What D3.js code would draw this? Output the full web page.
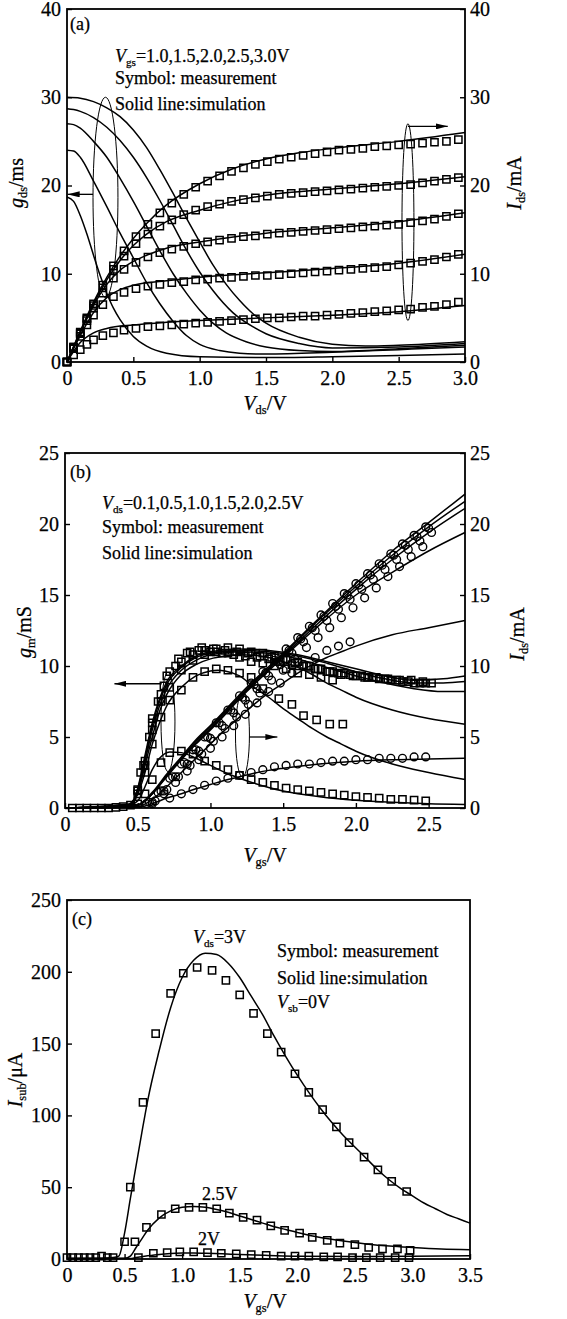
<!DOCTYPE html>
<html>
<head>
<meta charset="utf-8">
<script src="https://cdn.jsdelivr.net/npm/d3@7"></script>
<style>
  body { margin: 0; background: #fff; }
  svg { display: block; }
</style>
</head>
<body>
<div id="chart"></div>
<script>
const FONT = '"Liberation Serif","Times New Roman",serif';

// ---------- panel (a): output characteristics, Vgs = 1.0 .. 3.0 V ----------
const vdsMeas = [0, 0.05, 0.1, 0.15, 0.2, 0.27, 0.35, 0.43, 0.52, 0.61, 0.7, 0.79, 0.88, 0.97,
  1.06, 1.15, 1.24, 1.33, 1.42, 1.51, 1.6, 1.69, 1.78, 1.87, 1.96, 2.05, 2.14, 2.23, 2.32,
  2.41, 2.5, 2.59, 2.68, 2.77, 2.86, 2.95];
const idsMeasA = [
  [0, 0.8, 1.4, 2.0, 2.5, 3.0, 3.3, 3.6, 3.8, 4.0, 4.1, 4.2, 4.3, 4.4, 4.5, 4.6, 4.7, 4.8, 4.9, 5.0, 5.0, 5.1, 5.2, 5.2, 5.3, 5.4, 5.5, 5.6, 5.7, 5.8, 5.9, 6.0, 6.2, 6.3, 6.5, 6.8],
  [0, 1.5, 2.9, 4.2, 5.3, 6.5, 7.4, 7.9, 8.3, 8.6, 8.8, 9.0, 9.1, 9.3, 9.4, 9.5, 9.6, 9.7, 9.8, 9.8, 9.9, 10.0, 10.1, 10.2, 10.3, 10.4, 10.5, 10.6, 10.7, 10.8, 11.0, 11.2, 11.4, 11.6, 11.9, 12.2],
  [0, 1.6, 3.2, 4.7, 6.1, 7.8, 9.5, 10.5, 11.3, 11.9, 12.4, 12.8, 13.1, 13.4, 13.6, 13.8, 14.0, 14.2, 14.3, 14.5, 14.6, 14.7, 14.8, 14.9, 15.0, 15.1, 15.2, 15.3, 15.4, 15.5, 15.6, 15.8, 16.0, 16.2, 16.5, 16.8],
  [0, 1.7, 3.3, 4.9, 6.4, 8.4, 10.5, 12.0, 13.4, 14.5, 15.4, 16.1, 16.7, 17.2, 17.6, 17.9, 18.2, 18.4, 18.6, 18.8, 19.0, 19.1, 19.2, 19.3, 19.4, 19.5, 19.6, 19.7, 19.8, 19.9, 20.0, 20.1, 20.3, 20.5, 20.7, 20.9],
  [0, 1.7, 3.4, 5.0, 6.6, 8.7, 10.9, 12.6, 14.2, 15.6, 16.9, 18.0, 19.0, 19.8, 20.5, 21.1, 21.6, 22.0, 22.4, 22.7, 23.0, 23.2, 23.4, 23.6, 23.8, 24.0, 24.1, 24.2, 24.4, 24.5, 24.6, 24.7, 24.8, 24.9, 25.0, 25.2]
];
const idsSimA = [
  [[0, 0], [0.1, 2.2], [0.2, 3.3], [0.3, 3.8], [0.5, 4.2], [0.75, 4.5], [1.0, 4.7], [1.5, 5.0], [2.0, 5.3], [2.5, 5.7], [3.0, 6.4]],
  [[0, 0], [0.1, 3.0], [0.2, 5.6], [0.3, 7.3], [0.4, 8.2], [0.5, 8.7], [0.75, 9.2], [1.0, 9.6], [1.5, 10.1], [2.0, 10.6], [2.5, 11.2], [3.0, 12.2]],
  [[0, 0], [0.1, 3.3], [0.2, 6.4], [0.3, 8.8], [0.4, 10.4], [0.5, 11.4], [0.6, 12.1], [0.75, 12.9], [1.0, 13.6], [1.5, 14.6], [2.0, 15.2], [2.5, 15.9], [3.0, 16.9]],
  [[0, 0], [0.1, 3.4], [0.2, 6.6], [0.3, 9.3], [0.4, 11.5], [0.5, 13.2], [0.6, 14.5], [0.75, 15.9], [1.0, 17.2], [1.25, 18.2], [1.5, 18.9], [2.0, 19.6], [2.5, 20.2], [3.0, 21.0]],
  [[0, 0], [0.1, 3.5], [0.2, 6.8], [0.3, 9.6], [0.4, 12.0], [0.5, 14.0], [0.6, 15.7], [0.75, 17.8], [1.0, 20.2], [1.25, 21.9], [1.5, 23.0], [1.75, 23.7], [2.0, 24.2], [2.5, 25.0], [3.0, 26.0]]
];
const gdsSimA = [
  [[0, 18.7], [0.05, 18.2], [0.1, 16.6], [0.15, 14.5], [0.2, 12.1], [0.25, 9.8], [0.3, 7.8], [0.35, 6.1], [0.4, 4.8], [0.5, 2.9], [0.6, 1.8], [0.75, 1.0], [1.0, 0.6], [1.5, 0.5], [2.0, 0.6], [2.5, 0.75], [3.0, 0.9]],
  [[0, 24], [0.05, 23.9], [0.1, 23.2], [0.2, 20.5], [0.3, 17.6], [0.4, 14.6], [0.5, 11.8], [0.6, 9.0], [0.7, 6.6], [0.8, 4.6], [0.9, 3.0], [1.0, 2.0], [1.15, 1.3], [1.3, 1.0], [1.5, 0.9], [2.0, 1.1], [2.5, 1.4], [3.0, 1.7]],
  [[0, 27], [0.05, 26.9], [0.1, 26.5], [0.2, 25], [0.3, 23.2], [0.4, 20.8], [0.5, 18.2], [0.6, 15.4], [0.7, 12.6], [0.8, 10.0], [0.9, 7.8], [1.0, 5.9], [1.1, 4.4], [1.2, 3.3], [1.35, 2.3], [1.5, 1.7], [1.75, 1.3], [2.0, 1.2], [2.5, 1.5], [3.0, 1.9]],
  [[0, 28.7], [0.05, 28.6], [0.1, 28.4], [0.2, 27.7], [0.3, 26.6], [0.4, 25.1], [0.5, 23.2], [0.6, 20.9], [0.7, 18.3], [0.8, 15.5], [0.9, 12.7], [1.0, 10.2], [1.1, 8.1], [1.25, 5.6], [1.4, 4.0], [1.5, 3.2], [1.75, 2.1], [2.0, 1.6], [2.5, 1.7], [3.0, 2.1]],
  [[0, 30], [0.1, 29.9], [0.2, 29.5], [0.3, 28.8], [0.4, 27.8], [0.5, 26.3], [0.6, 24.3], [0.7, 21.8], [0.8, 19.1], [0.9, 16.3], [1.0, 13.6], [1.1, 11.0], [1.2, 8.8], [1.3, 7.0], [1.4, 5.5], [1.5, 4.4], [1.75, 2.8], [2.0, 2.0], [2.25, 1.8], [2.5, 1.9], [3.0, 2.3]]
];

// ---------- panel (b): transfer characteristics, Vds = 0.1 .. 2.5 V ----------
const gmSimB = [
  [[0, 0], [0.4, 0.05], [0.5, 0.5], [0.55, 1.5], [0.6, 2.7], [0.65, 3.5], [0.72, 3.95], [0.8, 3.9], [0.9, 3.5], [1.0, 3.0], [1.1, 2.5], [1.2, 2.1], [1.3, 1.75], [1.4, 1.45], [1.5, 1.2], [1.75, 0.8], [2.0, 0.55], [2.25, 0.4], [2.5, 0.3], [2.75, 0.25]],
  [[0, 0], [0.4, 0.1], [0.5, 1.0], [0.55, 2.5], [0.6, 4.5], [0.65, 6.0], [0.7, 7.2], [0.8, 8.5], [0.9, 9.3], [1.0, 9.65], [1.05, 9.7], [1.1, 9.65], [1.2, 9.3], [1.3, 8.5], [1.4, 7.8], [1.5, 7.0], [1.6, 6.3], [1.7, 5.6], [1.8, 5.0], [1.9, 4.5], [2.0, 4.0], [2.25, 3.1], [2.5, 2.5], [2.75, 2.0]],
  [[0, 0], [0.45, 0.2], [0.5, 1.0], [0.55, 3.0], [0.6, 5.0], [0.65, 6.8], [0.7, 8.0], [0.8, 9.4], [0.9, 10.1], [1.0, 10.5], [1.1, 10.7], [1.2, 10.8], [1.3, 10.75], [1.4, 10.6], [1.5, 10.3], [1.6, 9.9], [1.7, 9.4], [1.8, 8.8], [1.9, 8.3], [2.0, 7.8], [2.25, 6.9], [2.5, 6.3], [2.75, 5.9]],
  [[0, 0], [0.45, 0.2], [0.5, 1.2], [0.55, 3.3], [0.6, 5.5], [0.65, 7.2], [0.7, 8.4], [0.8, 9.7], [0.9, 10.4], [1.0, 10.8], [1.2, 11.0], [1.4, 10.9], [1.6, 10.5], [1.8, 9.9], [2.0, 9.3], [2.2, 8.8], [2.4, 8.4], [2.6, 8.2], [2.75, 8.2]],
  [[0, 0], [0.45, 0.25], [0.5, 1.3], [0.55, 3.5], [0.6, 5.8], [0.65, 7.5], [0.7, 8.7], [0.8, 9.9], [0.9, 10.6], [1.0, 10.9], [1.2, 11.1], [1.4, 11.0], [1.6, 10.7], [1.8, 10.2], [2.0, 9.6], [2.2, 9.1], [2.4, 8.8], [2.6, 8.8], [2.75, 8.9]],
  [[0, 0], [0.45, 0.3], [0.5, 1.4], [0.55, 3.7], [0.6, 6.0], [0.65, 7.7], [0.7, 8.9], [0.8, 10.0], [0.9, 10.7], [1.0, 11.0], [1.2, 11.2], [1.4, 11.1], [1.6, 10.8], [1.8, 10.3], [2.0, 9.8], [2.2, 9.3], [2.4, 9.0], [2.6, 9.1], [2.75, 9.3]]
];
const gmMeasB = [
  [[0.05, 0], [0.1, 0], [0.15, 0], [0.2, 0], [0.25, 0], [0.3, 0], [0.35, 0.05], [0.4, 0.1], [0.45, 0.2], [0.5, 0.3], [0.55, 1.0], [0.6, 2.0], [0.66, 3.2], [0.72, 3.9], [0.8, 4.0], [0.88, 3.8], [0.96, 3.3], [1.04, 3.0], [1.12, 2.7], [1.2, 2.3], [1.28, 2.0], [1.36, 1.8], [1.44, 1.6], [1.52, 1.4], [1.6, 1.3], [1.68, 1.2], [1.76, 1.1], [1.84, 1.0], [1.92, 0.9], [2.0, 0.8], [2.08, 0.75], [2.16, 0.7], [2.24, 0.6], [2.32, 0.6], [2.4, 0.55], [2.48, 0.5]],
  [[0.5, 1.0], [0.55, 2.5], [0.6, 4.5], [0.66, 6.4], [0.72, 7.6], [0.8, 8.3], [0.88, 9.2], [0.96, 9.6], [1.04, 9.8], [1.12, 9.7], [1.2, 9.5], [1.28, 9.2], [1.36, 8.4], [1.47, 7.7], [1.56, 7.3], [1.64, 6.5], [1.73, 6.2], [1.82, 5.9], [1.91, 5.9]],
  [[0.5, 1.2], [0.55, 3.0], [0.6, 5.5], [0.66, 7.5], [0.72, 8.5], [0.8, 9.7], [0.88, 10.4], [0.96, 10.8], [1.04, 11.0], [1.12, 10.9], [1.2, 10.6], [1.28, 10.3], [1.36, 10.2], [1.44, 10.0], [1.52, 9.8], [1.6, 9.5], [1.68, 9.4], [1.76, 9.2], [1.84, 9.0]],
  [[0.5, 1.3], [0.55, 3.3], [0.6, 6.0], [0.66, 8.0], [0.72, 9.6], [0.8, 10.3], [0.88, 10.8], [0.96, 11.1], [1.04, 11.2], [1.12, 11.3], [1.2, 11.2], [1.28, 11.0], [1.36, 10.9], [1.44, 10.7], [1.52, 10.5], [1.6, 10.3], [1.68, 10.0], [1.76, 9.8], [1.84, 9.6], [1.92, 9.5], [2.0, 9.3], [2.08, 9.2], [2.16, 9.1], [2.24, 9.0], [2.32, 8.9], [2.4, 8.8], [2.48, 8.8]],
  [[0.52, 2.5], [0.58, 5.0], [0.64, 7.5], [0.7, 9.3], [0.78, 10.5], [0.86, 11.0], [0.94, 11.3], [1.02, 11.2], [1.1, 11.1], [1.18, 11.0], [1.26, 10.9], [1.34, 10.7], [1.42, 10.6], [1.5, 10.4], [1.58, 10.2], [1.66, 10.0], [1.74, 9.8], [1.82, 9.6], [1.9, 9.4], [1.98, 9.3], [2.06, 9.2], [2.14, 9.2], [2.22, 9.1], [2.3, 9.0], [2.38, 9.0], [2.46, 8.9]],
  [[0.54, 3.0], [0.6, 6.3], [0.68, 8.6], [0.76, 10.0], [0.84, 10.9], [0.92, 11.1], [1.0, 11.0], [1.08, 10.9], [1.16, 10.8], [1.24, 10.7], [1.32, 10.6], [1.4, 10.5], [1.48, 10.3], [1.56, 10.1], [1.64, 10.0], [1.72, 9.8], [1.8, 9.6], [1.88, 9.5], [1.96, 9.4], [2.04, 9.3], [2.12, 9.2], [2.2, 9.1], [2.28, 9.0], [2.36, 8.9], [2.44, 8.8], [2.52, 8.8]]
];
const idsSimB = [
  [[0, 0], [0.5, 0.05], [0.6, 0.3], [0.7, 0.7], [0.8, 1.0], [0.9, 1.35], [1.0, 1.65], [1.1, 1.95], [1.2, 2.2], [1.3, 2.45], [1.4, 2.65], [1.5, 2.8], [1.75, 3.1], [2.0, 3.3], [2.25, 3.4], [2.5, 3.45], [2.75, 3.5]],
  [[0, 0], [0.5, 0.1], [0.6, 0.6], [0.7, 1.5], [0.8, 2.5], [0.9, 3.5], [1.0, 4.5], [1.1, 5.5], [1.2, 6.4], [1.3, 7.3], [1.4, 8.1], [1.5, 8.8], [1.6, 9.5], [1.7, 10.1], [1.8, 10.6], [1.9, 11.0], [2.0, 11.4], [2.25, 12.2], [2.5, 12.7], [2.75, 13.2]],
  [[0, 0], [0.5, 0.2], [0.6, 1.0], [0.7, 2.2], [0.8, 3.4], [0.9, 4.5], [1.0, 5.5], [1.25, 8.2], [1.5, 10.6], [1.75, 12.9], [2.0, 15.0], [2.25, 16.6], [2.5, 18.1], [2.75, 19.4]],
  [[0, 0], [0.5, 0.2], [0.6, 1.0], [0.7, 2.3], [0.8, 3.5], [0.9, 4.6], [1.0, 5.6], [1.25, 8.3], [1.5, 10.7], [1.75, 13.1], [2.0, 15.4], [2.25, 17.5], [2.5, 19.4], [2.75, 21.1]],
  [[0, 0], [0.5, 0.2], [0.6, 1.0], [0.7, 2.3], [0.8, 3.5], [0.9, 4.7], [1.0, 5.7], [1.25, 8.4], [1.5, 10.8], [1.75, 13.3], [2.0, 15.6], [2.25, 17.8], [2.5, 19.8], [2.75, 21.6]],
  [[0, 0], [0.5, 0.25], [0.6, 1.1], [0.7, 2.4], [0.8, 3.6], [0.9, 4.8], [1.0, 5.8], [1.25, 8.5], [1.5, 10.9], [1.75, 13.4], [2.0, 15.8], [2.25, 18.1], [2.5, 20.1], [2.75, 22.1]]
];
const idsMeasB = [
  [[0.72, 0.7], [0.8, 1.0], [0.88, 1.3], [0.96, 1.6], [1.04, 1.9], [1.12, 2.1], [1.2, 2.3], [1.28, 2.5], [1.36, 2.7], [1.44, 2.9], [1.52, 3.0], [1.6, 3.1], [1.68, 3.1], [1.76, 3.2], [1.84, 3.3], [1.92, 3.3], [2.0, 3.4], [2.08, 3.4], [2.16, 3.5], [2.24, 3.5], [2.32, 3.5], [2.4, 3.6], [2.48, 3.6]],
  [[0.6, 0.3], [0.68, 1.0], [0.76, 1.8], [0.84, 2.6], [0.92, 3.4], [1.0, 4.2], [1.08, 5.0], [1.16, 5.8], [1.24, 6.6], [1.32, 7.4], [1.4, 8.2], [1.48, 8.8], [1.56, 9.5], [1.64, 10.1], [1.72, 10.6], [1.8, 11.1], [1.88, 11.4], [1.96, 11.7]],
  [[0.62, 0.5], [0.7, 1.3], [0.78, 2.2], [0.86, 3.0], [0.94, 3.8], [1.02, 4.7], [1.1, 5.6], [1.18, 6.4], [1.26, 7.3], [1.34, 8.1], [1.42, 9.0], [1.5, 9.7], [1.58, 10.5], [1.66, 11.3], [1.74, 12.0], [1.82, 12.7], [1.9, 13.4], [1.98, 14.1], [2.06, 14.8], [2.14, 15.5], [2.22, 16.3], [2.3, 17.0], [2.38, 17.7], [2.46, 18.4]],
  [[0.6, 0.4], [0.68, 1.2], [0.76, 2.2], [0.84, 3.1], [0.92, 4.0], [1.0, 4.9], [1.08, 5.8], [1.16, 6.7], [1.24, 7.6], [1.32, 8.4], [1.4, 9.3], [1.48, 10.1], [1.56, 10.9], [1.64, 11.7], [1.72, 12.5], [1.8, 13.2], [1.88, 14.0], [1.96, 14.7], [2.04, 15.4], [2.12, 16.1], [2.2, 16.8], [2.28, 17.5], [2.36, 18.2], [2.44, 18.8], [2.52, 19.4]],
  [[0.58, 0.4], [0.66, 1.2], [0.74, 2.2], [0.82, 3.2], [0.9, 4.1], [0.98, 5.0], [1.06, 6.0], [1.14, 6.9], [1.22, 7.8], [1.3, 8.7], [1.38, 9.5], [1.46, 10.3], [1.54, 11.1], [1.62, 11.9], [1.7, 12.7], [1.78, 13.5], [1.86, 14.2], [1.94, 15.0], [2.02, 15.7], [2.1, 16.4], [2.18, 17.1], [2.26, 17.8], [2.34, 18.5], [2.42, 19.1], [2.5, 19.7]],
  [[0.56, 0.3], [0.64, 1.1], [0.72, 2.1], [0.8, 3.1], [0.88, 4.1], [0.96, 5.0], [1.04, 6.0], [1.12, 6.9], [1.2, 7.9], [1.28, 8.8], [1.36, 9.6], [1.44, 10.4], [1.52, 11.2], [1.6, 12.0], [1.68, 12.8], [1.76, 13.6], [1.84, 14.4], [1.92, 15.1], [2.0, 15.8], [2.08, 16.5], [2.16, 17.2], [2.24, 17.9], [2.32, 18.6], [2.4, 19.2], [2.48, 19.8]]
];

// ---------- panel (c): substrate current, Vds = 3, 2.5, 2 V ----------
const isubSimC = [
  [[0, 0.5], [0.3, 0.5], [0.4, 1], [0.45, 2], [0.5, 18], [0.55, 42], [0.6, 65], [0.65, 88], [0.7, 110], [0.8, 145], [0.9, 175], [1.0, 196], [1.1, 208], [1.2, 213], [1.3, 212], [1.4, 206], [1.5, 196], [1.6, 183], [1.7, 170], [1.8, 155], [1.9, 141], [2.0, 128], [2.1, 116], [2.2, 105], [2.3, 95], [2.4, 86], [2.5, 78], [2.6, 70], [2.7, 62], [2.8, 55], [2.9, 49], [3.0, 44], [3.1, 39], [3.2, 35], [3.3, 31], [3.4, 28], [3.5, 25]],
  [[0, 0.3], [0.5, 0.5], [0.55, 2], [0.6, 8], [0.65, 14], [0.7, 20], [0.8, 28.5], [0.9, 33.5], [1.0, 36], [1.1, 36.5], [1.2, 36], [1.3, 34.5], [1.4, 32.5], [1.5, 30], [1.6, 27.5], [1.7, 25], [1.8, 22.5], [1.9, 20.5], [2.0, 18.5], [2.2, 15], [2.4, 12.5], [2.6, 10.5], [2.8, 9], [3.0, 8], [3.25, 7], [3.5, 6.5]],
  [[0, 0.2], [0.55, 0.3], [0.6, 1], [0.7, 2.2], [0.8, 3.2], [0.9, 3.8], [1.0, 4.1], [1.1, 4.2], [1.2, 4.0], [1.35, 3.6], [1.5, 3.1], [1.75, 2.5], [2.0, 2.0], [2.5, 1.8], [3.0, 2.0], [3.5, 2.2]]
];
const isubMeasC = [
  [[0, 1], [0.05, 1], [0.1, 1], [0.15, 1], [0.2, 1], [0.25, 1], [0.3, 2], [0.35, 1], [0.4, 1], [0.5, 12], [0.55, 50], [0.66, 109], [0.77, 157], [0.9, 185], [1.01, 199], [1.13, 203], [1.26, 201], [1.38, 194], [1.5, 184], [1.62, 171], [1.74, 157], [1.86, 144], [1.98, 129], [2.1, 116], [2.22, 104], [2.34, 92], [2.45, 81], [2.58, 71], [2.7, 62], [2.82, 54], [2.95, 47]],
  [[0.59, 12], [0.69, 22], [0.82, 31], [0.94, 35], [1.06, 36], [1.18, 36], [1.3, 35], [1.41, 32], [1.53, 29], [1.65, 27], [1.77, 23], [1.89, 20], [2.02, 18], [2.13, 15], [2.26, 13], [2.37, 11], [2.5, 10], [2.62, 8], [2.74, 7], [2.87, 7], [2.98, 6]],
  [[0.62, 1], [0.75, 4], [0.87, 4.5], [0.98, 5], [1.1, 5], [1.22, 4.5], [1.34, 4], [1.47, 3.5], [1.6, 3], [1.73, 2.5], [1.86, 2], [1.98, 2], [2.1, 2], [2.23, 1.5], [2.35, 1.5], [2.48, 1], [2.6, 1], [2.72, 1], [2.85, 1], [2.97, 1]]
];

// tick values
const ticksA_x = [0, 0.5, 1.0, 1.5, 2.0, 2.5, 3.0];
const ticksA_y = [0, 10, 20, 30, 40];
const ticksB_x = [0, 0.5, 1.0, 1.5, 2.0, 2.5];
const ticksB_y = [0, 5, 10, 15, 20, 25];
const ticksC_x = [0, 0.5, 1.0, 1.5, 2.0, 2.5, 3.0, 3.5];
const ticksC_y = [0, 50, 100, 150, 200, 250];

const svg = d3.select('#chart').append('svg')
  .attr('width', 567).attr('height', 1319)
  .style('font-family', FONT);
svg.append('rect').attr('width', 567).attr('height', 1319).attr('fill', '#fff');

const defs = svg.append('defs');
defs.append('marker')
  .attr('id', 'ah').attr('viewBox', '0 0 12 6')
  .attr('refX', 12).attr('refY', 3)
  .attr('markerWidth', 12).attr('markerHeight', 6)
  .attr('markerUnits', 'userSpaceOnUse').attr('orient', 'auto')
  .append('path').attr('d', 'M0,0L12,3L0,6Z').attr('fill', '#000');

function rich(sel, parts, size) {
  let shifted = false;
  parts.forEach(p => {
    const ts = sel.append('tspan').text(p.t);
    if (p.i) ts.attr('font-style', 'italic');
    if (p.sub) {
      ts.attr('font-size', size * 0.62).attr('dy', size * 0.22);
      shifted = true;
    } else if (shifted) {
      ts.attr('dy', -size * 0.22);
      shifted = false;
    }
  });
  return sel;
}

function label(x, y, parts, size, rotate) {
  const t = svg.append('text')
    .attr('font-size', size).attr('fill', '#000')
    .attr('stroke', '#000').attr('stroke-width', 0.25);
  if (rotate) {
    t.attr('transform', `translate(${x},${y}) rotate(-90)`).attr('text-anchor', 'middle');
  } else {
    t.attr('x', x).attr('y', y);
  }
  return rich(t, parts, size);
}

function makePanel(p) {
  const x = d3.scaleLinear().domain(p.xDomain).range([p.left, p.right]);
  const y = d3.scaleLinear().domain(p.yDomain).range([p.bottom, p.top]);
  const g = svg.append('g');
  const fmtX = d => d === 0 ? '0' : d3.format('.1f')(d);

  g.append('g').attr('transform', `translate(0,${p.bottom})`)
    .call(d3.axisBottom(x).tickValues(p.xTicks).tickFormat(fmtX).tickSize(-5).tickPadding(9));
  g.append('g').attr('transform', `translate(${p.left},0)`)
    .call(d3.axisLeft(y).tickValues(p.yTicks).tickFormat(d3.format('d')).tickSize(-5).tickPadding(6));
  if (p.rightAxis) {
    g.append('g').attr('transform', `translate(${p.right},0)`)
      .call(d3.axisRight(y).tickValues(p.yTicks).tickFormat(d3.format('d')).tickSize(-5).tickPadding(5));
  }
  g.selectAll('.domain').remove();
  g.selectAll('.tick line').attr('stroke', '#000').attr('stroke-width', 1.4);
  g.selectAll('.tick text').attr('font-size', 20).attr('font-family', FONT).attr('fill', '#000')
    .attr('stroke', '#000').attr('stroke-width', 0.25);

  g.append('rect')
    .attr('x', p.left).attr('y', p.top)
    .attr('width', p.right - p.left).attr('height', p.bottom - p.top)
    .attr('fill', 'none').attr('stroke', '#000').attr('stroke-width', 1.8);

  const line = d3.line().x(d => x(d[0])).y(d => y(d[1])).curve(d3.curveMonotoneX);
  const marks = g.append('g');

  function lines(series, w) {
    marks.append('g').selectAll('path').data(series).join('path')
      .attr('d', line).attr('fill', 'none').attr('stroke', '#000')
      .attr('stroke-width', w || 1.5);
  }
  function squares(series) {
    const sym = d3.symbol(d3.symbolSquare, 52);
    marks.append('g').selectAll('g').data(series).join('g')
      .selectAll('path').data(d => d).join('path')
      .attr('d', sym)
      .attr('transform', d => `translate(${x(d[0])},${y(d[1])})`)
      .attr('fill', 'none').attr('stroke', '#000').attr('stroke-width', 1.5);
  }
  function circles(series) {
    marks.append('g').selectAll('g').data(series).join('g')
      .selectAll('circle').data(d => d).join('circle')
      .attr('cx', d => x(d[0])).attr('cy', d => y(d[1])).attr('r', 3.9)
      .attr('fill', 'none').attr('stroke', '#000').attr('stroke-width', 1.4);
  }
  function ellipse(cx, cy, rxV, ryV) {
    marks.append('ellipse')
      .attr('cx', x(cx)).attr('cy', y(cy))
      .attr('rx', x(cx + rxV) - x(cx)).attr('ry', y(cy - ryV) - y(cy))
      .attr('fill', 'none').attr('stroke', '#000').attr('stroke-width', 1);
  }
  function arrow(x1, y1, x2, y2) {
    marks.append('line')
      .attr('x1', x(x1)).attr('y1', y(y1)).attr('x2', x(x2)).attr('y2', y(y2))
      .attr('stroke', '#000').attr('stroke-width', 1.3).attr('marker-end', 'url(#ah)');
  }
  return { x, y, lines, squares, circles, ellipse, arrow };
}

// ---------------- panel (a) ----------------
const pa = makePanel({ left: 67, right: 465, top: 9, bottom: 362, xDomain: [0, 3], yDomain: [0, 40],
  xTicks: ticksA_x, yTicks: ticksA_y, rightAxis: true });
pa.lines(gdsSimA);
pa.lines(idsSimA);
pa.squares(idsMeasA.map(s => s.map((v, i) => [vdsMeas[i], v])));
pa.ellipse(0.29, 18.65, 0.094, 11.35);
pa.arrow(0.196, 19, 0.005, 19);
pa.ellipse(2.57, 15.85, 0.045, 11.15);
pa.arrow(2.57, 26.7, 2.87, 26.7);

label(70, 30, [{ t: '(a)' }], 18);
label(115, 62, [{ t: 'V', i: true }, { t: 'gs', sub: true }, { t: '=1.0,1.5,2.0,2.5,3.0V' }], 18);
label(115, 84, [{ t: 'Symbol: measurement' }], 18);
label(115, 110, [{ t: 'Solid line:simulation' }], 18);
label(265, 410, [{ t: 'V', i: true }, { t: 'ds', sub: true }, { t: '/V' }], 20).attr('text-anchor', 'middle');
label(23, 183, [{ t: 'g', i: true }, { t: 'ds', sub: true }, { t: '/ms' }], 20, true);
label(521, 183, [{ t: 'I', i: true }, { t: 'ds', sub: true }, { t: '/mA' }], 20, true);

// ---------------- panel (b) ----------------
const pb = makePanel({ left: 65, right: 465, top: 453, bottom: 808, xDomain: [0, 2.75], yDomain: [0, 25],
  xTicks: ticksB_x, yTicks: ticksB_y, rightAxis: true });
pb.lines(gmSimB);
pb.lines(idsSimB);
pb.squares(gmMeasB);
pb.circles(idsMeasB);
pb.ellipse(0.708, 6.06, 0.048, 3.5);
pb.arrow(0.665, 8.75, 0.34, 8.75);
pb.ellipse(1.22, 5.14, 0.048, 2.96);
pb.arrow(1.268, 5.0, 1.46, 5.0);

label(70, 478, [{ t: '(b)' }], 18);
label(102, 509, [{ t: 'V', i: true }, { t: 'ds', sub: true }, { t: '=0.1,0.5,1.0,1.5,2.0,2.5V' }], 18);
label(102, 533, [{ t: 'Symbol: measurement' }], 18);
label(102, 559, [{ t: 'Solid line:simulation' }], 18);
label(265, 862, [{ t: 'V', i: true }, { t: 'gs', sub: true }, { t: '/V' }], 20).attr('text-anchor', 'middle');
label(31, 632, [{ t: 'g', i: true }, { t: 'm', sub: true }, { t: '/mS' }], 20, true);
label(524, 634, [{ t: 'I', i: true }, { t: 'ds', sub: true }, { t: '/mA' }], 20, true);

// ---------------- panel (c) ----------------
const pc = makePanel({ left: 67, right: 470, top: 900, bottom: 1259, xDomain: [0, 3.5], yDomain: [0, 250],
  xTicks: ticksC_x, yTicks: ticksC_y, rightAxis: false });
pc.lines(isubSimC);
pc.squares(isubMeasC);

label(72, 925, [{ t: '(c)' }], 18);
label(193, 943, [{ t: 'V', i: true }, { t: 'ds', sub: true }, { t: '=3V' }], 18);
label(277, 957, [{ t: 'Symbol: measurement' }], 18);
label(277, 984, [{ t: 'Solid line:simulation' }], 18);
label(277, 1008, [{ t: 'V', i: true }, { t: 'sb', sub: true }, { t: '=0V' }], 18);
label(202, 1200, [{ t: '2.5V' }], 18);
label(198, 1245, [{ t: '2V' }], 18);
label(265, 1308, [{ t: 'V', i: true }, { t: 'gs', sub: true }, { t: '/V' }], 20).attr('text-anchor', 'middle');
label(22, 1080, [{ t: 'I', i: true }, { t: 'sub', sub: true }, { t: '/μA' }], 20, true);
</script>
</body>
</html>
